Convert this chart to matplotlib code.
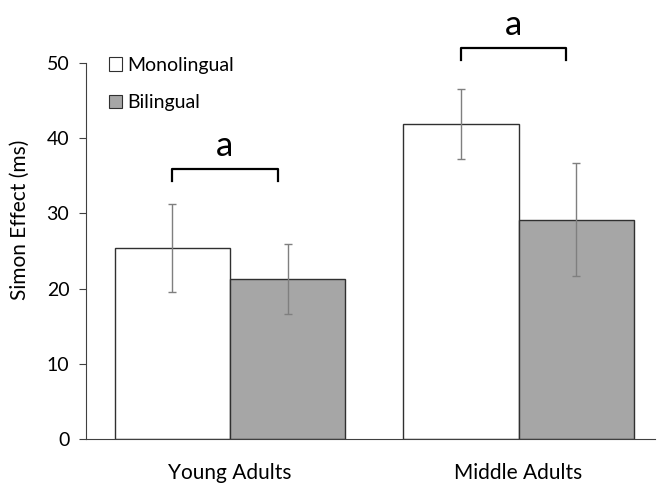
import matplotlib
matplotlib.use("Agg")
import matplotlib.pyplot as plt
import numpy as np

groups = ["Young Adults", "Middle Adults"]
series = ["Monolingual", "Bilingual"]
mono = [25.4, 41.9]
bi = [21.3, 29.2]
mono_err = [5.9, 4.6]
bi_err = [4.7, 7.5]
yticks = [0, 10, 20, 30, 40, 50]
sig_labels = ["a", "a"]

plt.rcParams['font.family'] = ['Lato', 'DejaVu Sans']

fig = plt.figure(figsize=(6.58, 4.87), dpi=100)
ax = fig.add_axes([86/658, 48/487, (655-86)/658, 439/487])

x = np.arange(len(groups))
w = 0.4
ax.bar(x - w/2, mono, w, color="white", edgecolor="#303030", linewidth=1, label=series[0], zorder=2)
ax.bar(x + w/2, bi, w, color="#a6a6a6", edgecolor="#303030", linewidth=1, label=series[1], zorder=2)
ax.errorbar(x - w/2, mono, yerr=mono_err, fmt="none", ecolor="#7f7f7f", elinewidth=1, capsize=3, capthick=1, zorder=3)
ax.errorbar(x + w/2, bi, yerr=bi_err, fmt="none", ecolor="#7f7f7f", elinewidth=1, capsize=3, capthick=1, zorder=3)

# significance brackets
for i, lab in enumerate(sig_labels):
    top = max(mono[i] + mono_err[i], bi[i] + bi_err[i]) + 4.6 if i == 0 else mono[i] + mono_err[i] + 5.5
    x0 = x[i] - w/2
    x1 = x[i] + w/2 - 0.035
    ax.plot([x0, x0, x1, x1], [top - 1.6, top, top, top - 1.6], color="black", linewidth=1.6, zorder=3)
    ax.text((x0 + x1) / 2, top + 1.0, lab, ha="center", va="bottom", fontsize=25)

ax.set_xlim(-0.499, 1.473)
ax.set_ylim(0, 58.4)
ax.set_yticks(yticks)
ax.set_xticks(x)
ax.set_xticklabels(groups, fontsize=15)
ax.tick_params(axis="x", length=0, pad=17)
ax.tick_params(axis="y", direction="out", length=5, labelsize=14, pad=7, color="#404040")
ax.set_ylabel("Simon Effect (ms)", fontsize=15, labelpad=12)
for s in ["top", "right"]:
    ax.spines[s].set_visible(False)
ax.spines["left"].set_color("#404040")
ax.spines["bottom"].set_color("#404040")
ax.spines["left"].set_bounds(0, 50)

leg = ax.legend(loc="upper left", bbox_to_anchor=(101/658, 1 - 49/487), bbox_transform=fig.transFigure,
                frameon=False, fontsize=14, handlelength=0.7, handleheight=0.7,
                handletextpad=0.25, labelspacing=1.05, borderaxespad=0)
for h in leg.legend_handles:
    h.set_linewidth(0.8)

fig.savefig("out.png", dpi=100, facecolor="white")
